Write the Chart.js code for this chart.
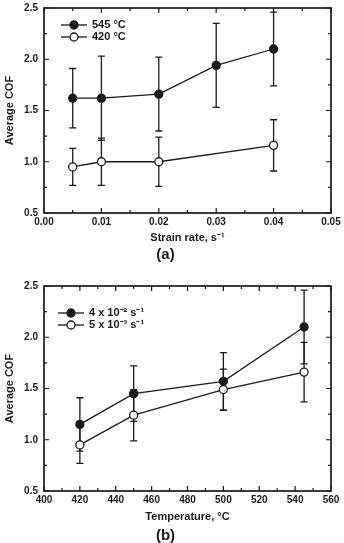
<!DOCTYPE html>
<html>
<head>
<meta charset="utf-8">
<script src="https://cdn.jsdelivr.net/npm/chart.js@4"></script>
<style>
  body { margin: 0; background: #fff; }
  #wrapA { position: absolute; left: 0; top: 0; }
  #wrapB { position: absolute; left: 0; top: 262px; }
</style>
</head>
<body>
<div id="wrapA"><canvas id="chartA" width="344" height="262"></canvas></div>
<div id="wrapB"><canvas id="chartB" width="344" height="281"></canvas></div>
<script>
// (a) COF vs strain rate
const strainRates545 = [0.005, 0.01, 0.02, 0.03, 0.04];
const cof545 = [1.62, 1.62, 1.66, 1.94, 2.10];
const err545 = [0.29, 0.41, 0.36, 0.41, 0.36];
const strainRates420 = [0.005, 0.01, 0.02, 0.04];
const cof420 = [0.95, 1.00, 1.00, 1.16];
const err420 = [0.18, 0.23, 0.24, 0.25];

// (b) COF vs temperature
const temps = [420, 450, 500, 545];
const cofFast = [1.15, 1.45, 1.57, 2.10];
const errFast = [0.26, 0.27, 0.28, 0.36];
const cofSlow = [0.95, 1.24, 1.49, 1.66];
const errSlow = [0.18, 0.25, 0.20, 0.29];

// tick labels
const strainTicks = [0, 0.01, 0.02, 0.03, 0.04, 0.05];
const tempTicks = [400, 420, 440, 460, 480, 500, 520, 540, 560];
const cofTicks = [0.5, 1.0, 1.5, 2.0, 2.5];

const ink = '#1a1a1a';
Chart.defaults.font.family = '"Liberation Sans", Arial, sans-serif';
Chart.defaults.font.weight = 'bold';
Chart.defaults.color = ink;

const errorBars = {
  id: 'errorBars',
  beforeDatasetsDraw(chart) {
    const { ctx, scales: { y } } = chart;
    ctx.save();
    ctx.strokeStyle = ink;
    ctx.lineWidth = 1.3;
    chart.data.datasets.forEach((ds, i) => {
      const meta = chart.getDatasetMeta(i);
      meta.data.forEach((pt, j) => {
        const v = ds.data[j].y, e = ds.errors[j];
        const top = y.getPixelForValue(v + e), bot = y.getPixelForValue(v - e);
        ctx.beginPath();
        ctx.moveTo(pt.x, top); ctx.lineTo(pt.x, bot);
        ctx.moveTo(pt.x - 3.5, top); ctx.lineTo(pt.x + 3.5, top);
        ctx.moveTo(pt.x - 3.5, bot); ctx.lineTo(pt.x + 3.5, bot);
        ctx.stroke();
      });
    });
    ctx.restore();
  }
};

// box frame with inward ticks on all four sides
const frame = {
  id: 'frame',
  afterDatasetsDraw(chart, args, opts) {
    const { ctx, chartArea: a, scales: { x, y } } = chart;
    const isMajor = (scale, v) => scale.ticks.some(t => Math.abs(t.value - v) < 1e-9);
    ctx.save();
    ctx.strokeStyle = ink;
    ctx.lineWidth = 1.2;
    ctx.beginPath();
    let n = Math.round((x.max - x.min) / opts.xMinor);
    for (let i = 0; i <= n; i++) {
      const v = x.min + i * opts.xMinor;
      const len = isMajor(x, v) ? 5 : 3;
      const px = x.getPixelForValue(v);
      ctx.moveTo(px, a.bottom); ctx.lineTo(px, a.bottom - len);
      ctx.moveTo(px, a.top); ctx.lineTo(px, a.top + len);
    }
    n = Math.round((y.max - y.min) / opts.yMinor);
    for (let i = 0; i <= n; i++) {
      const v = y.min + i * opts.yMinor;
      const len = isMajor(y, v) ? 5 : 3;
      const py = y.getPixelForValue(v);
      ctx.moveTo(a.left, py); ctx.lineTo(a.left + len, py);
      ctx.moveTo(a.right, py); ctx.lineTo(a.right - len, py);
    }
    ctx.stroke();
    ctx.lineWidth = 1.7;
    ctx.strokeRect(a.left, a.top, a.width, a.height);
    ctx.restore();
  }
};

const keyBox = {
  id: 'keyBox',
  afterDatasetsDraw(chart, args, opts) {
    const { ctx, chartArea: a } = chart;
    chart.data.datasets.forEach((ds, i) => {
      const cy = a.top + opts.top + i * opts.gap;
      const x0 = a.left + opts.left;
      ctx.save();
      ctx.strokeStyle = ink;
      ctx.lineWidth = ds.borderWidth;
      ctx.beginPath();
      ctx.moveTo(x0, cy); ctx.lineTo(x0 + opts.len, cy);
      ctx.stroke();
      ctx.beginPath();
      ctx.arc(x0 + opts.len / 2, cy, ds.pointRadius, 0, Math.PI * 2);
      ctx.fillStyle = ds.pointBackgroundColor;
      ctx.fill();
      ctx.stroke();
      ctx.fillStyle = ink;
      ctx.font = 'bold 11px "Liberation Sans", Arial, sans-serif';
      ctx.textBaseline = 'middle';
      ctx.fillText(ds.label, x0 + opts.len + 5, cy);
      ctx.restore();
    });
  }
};

function series(label, xs, ys, errs, fill) {
  return {
    label,
    data: xs.map((x, i) => ({ x, y: ys[i] })),
    errors: errs,
    showLine: true,
    borderColor: ink,
    borderWidth: 1.3,
    pointRadius: 4,
    pointBackgroundColor: fill,
    pointBorderColor: ink,
    pointBorderWidth: 1.3
  };
}

function noPad(s) {
  s.paddingTop = 0; s.paddingBottom = 0;
  s.paddingLeft = 0; s.paddingRight = 0;
}

function makeChart(id, o) {
  return new Chart(document.getElementById(id), {
    type: 'scatter',
    data: { datasets: o.datasets },
    options: {
      responsive: false,
      animation: false,
      layout: { padding: { left: 0, right: 13, top: o.padTop, bottom: 0 } },
      plugins: {
        legend: { display: false },
        tooltip: { enabled: false },
        title: {
          display: true, text: o.caption, position: 'bottom',
          font: { size: 15, weight: 'bold', lineHeight: 1 },
          padding: { top: 1, bottom: 0 }
        },
        frame: { xMinor: o.xMinor, yMinor: 0.25 },
        keyBox: o.key
      },
      scales: {
        x: {
          type: 'linear', min: o.xTicks[0], max: o.xTicks[o.xTicks.length - 1],
          afterBuildTicks: s => { s.ticks = o.xTicks.map(v => ({ value: v })); },
          afterFit: s => { s.height = o.xHeight; noPad(s); },
          grid: { display: false, drawTicks: false },
          border: { display: false },
          ticks: { padding: 3, font: { size: 10 }, callback: o.xFormat },
          title: {
            display: true, text: o.xTitle,
            font: { size: 11, weight: 'bold' },
            padding: { top: 0, bottom: o.xTitlePad }
          }
        },
        y: {
          type: 'linear', min: 0.5, max: 2.5,
          afterBuildTicks: s => { s.ticks = cofTicks.map(v => ({ value: v })); },
          afterFit: s => { s.width = 44; noPad(s); },
          grid: { display: false, drawTicks: false },
          border: { display: false },
          ticks: { padding: 6, font: { size: 10 }, callback: v => v.toFixed(1) },
          title: {
            display: true, text: 'Average COF',
            font: { size: 11, weight: 'bold' },
            padding: { top: 3, bottom: 0 }
          }
        }
      }
    },
    plugins: [errorBars, frame, keyBox]
  });
}

makeChart('chartA', {
  datasets: [
    series('545 °C', strainRates545, cof545, err545, ink),
    series('420 °C', strainRates420, cof420, err420, '#ffffff')
  ],
  caption: '(a)',
  padTop: 8,
  xTicks: strainTicks,
  xMinor: 0.005,
  xFormat: v => v.toFixed(2),
  xTitle: 'Strain rate, s⁻¹',
  xHeight: 33,
  xTitlePad: 1,
  key: { left: 17, top: 17, gap: 12, len: 26 }
});

makeChart('chartB', {
  datasets: [
    series('4 x 10⁻² s⁻¹', temps, cofFast, errFast, ink),
    series('5 x 10⁻³ s⁻¹', temps, cofSlow, errSlow, '#ffffff')
  ],
  caption: '(b)',
  padTop: 24,
  xTicks: tempTicks,
  xMinor: 10,
  xFormat: v => String(v),
  xTitle: 'Temperature, °C',
  xHeight: 36,
  xTitlePad: 3,
  key: { left: 14, top: 27, gap: 12, len: 26 }
});
</script>
</body>
</html>
